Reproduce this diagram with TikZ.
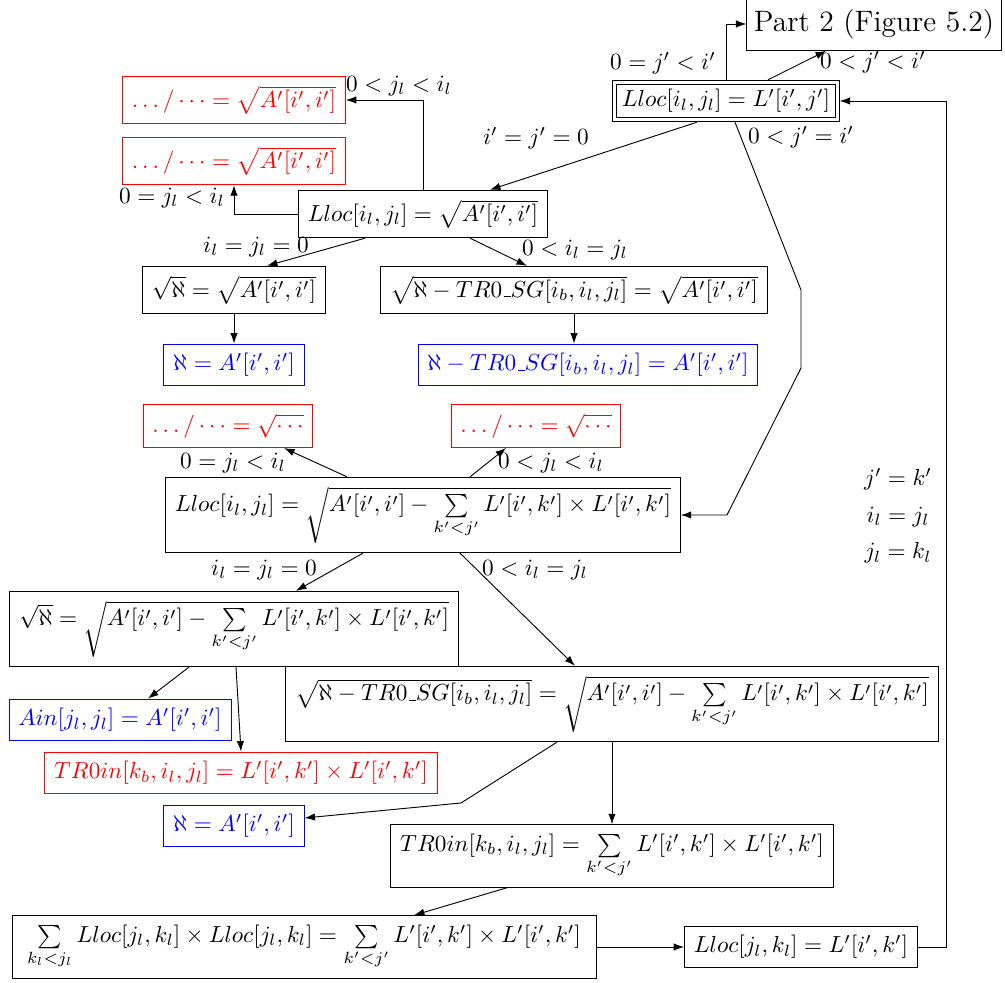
\documentclass[tikz,border=0pt]{standalone}
\usetikzlibrary{calc,arrows.meta}
\newcommand{\usc}{\mbox{\kern.06em\vbox{\hrule width.3em}}}
\begin{document}
\begin{tikzpicture}[x=0.43pt,y=-0.43pt,
  box/.style={draw, inner sep=4pt, line width=0.4pt},
  rbox/.style={box, draw=red, text=red},
  bbox/.style={box, draw=blue, text=blue},
  arr/.style={-{Latex[length=4.5pt,width=3.2pt]}, line width=0.4pt},
  lbl/.style={inner sep=1pt}
]
\useasboundingbox (0,0) rectangle (1005,983);

% nodes
\node[box, font=\fontsize{12.7}{15}\selectfont, inner xsep=3pt, inner ysep=5pt] (P) at (874,24) {Part 2 (Figure 5.2)};
\node[box, double, double distance=1.3pt, inner sep=3pt, outer sep=1.1pt] (T) at (726,101) {$Lloc[i_l,j_l]=L'[i',j']$};
\node[rbox] (R1) at (234,100) {$\ldots/\cdots=\sqrt{A'[i',i']}$};
\node[rbox] (R2) at (234,161) {$\ldots/\cdots=\sqrt{A'[i',i']}$};
\node[box] (L1) at (423,214) {$Lloc[i_l,j_l]=\sqrt{A'[i',i']}$};
\node[box] (S1) at (234,290) {$\sqrt{\aleph}=\sqrt{A'[i',i']}$};
\node[box] (S2) at (574,290) {$\sqrt{\aleph-TR0\usc SG[i_b,i_l,j_l]}=\sqrt{A'[i',i']}$};
\node[bbox] (B1) at (234,365) {$\aleph=A'[i',i']$};
\node[bbox] (B2) at (588,365) {$\aleph-TR0\usc SG[i_b,i_l,j_l]=A'[i',i']$};
\node[rbox] (R3) at (228,426) {$\ldots/\cdots=\sqrt{\cdots}$};
\node[rbox] (R4) at (536,426) {$\ldots/\cdots=\sqrt{\cdots}$};
\node[box] (L2) at (423,515) {$Lloc[i_l,j_l]=\sqrt{A'[i',i']-\sum\limits_{k'<j'}L'[i',k']\times L'[i',k']}$};
\node[box] (S3) at (234,629) {$\sqrt{\aleph}=\sqrt{A'[i',i']-\sum\limits_{k'<j'}L'[i',k']\times L'[i',k']}$};
\node[box] (S4) at (612,704) {$\sqrt{\aleph-TR0\usc SG[i_b,i_l,j_l]}=\sqrt{A'[i',i']-\sum\limits_{k'<j'}L'[i',k']\times L'[i',k']}$};
\node[bbox] (B3) at (120,720) {$Ain[j_l,j_l]=A'[i',i']$};
\node[rbox] (R5) at (241,773) {$TR0in[k_b,i_l,j_l]=L'[i',k']\times L'[i',k']$};
\node[bbox] (B4) at (234,826) {$\aleph=A'[i',i']$};
\node[box] (T1) at (612,856) {$TR0in[k_b,i_l,j_l]=\sum\limits_{k'<j'}L'[i',k']\times L'[i',k']$};
\node[box, inner xsep=6.5pt] (F1) at (304,947) {$\sum\limits_{k_l<j_l}Lloc[j_l,k_l]\times Lloc[j_l,k_l]=\sum\limits_{k'<j'}L'[i',k']\times L'[i',k']$};
\node[box] (F2) at (801,947) {$Lloc[j_l,k_l]=L'[i',k']$};

% connectors
\draw[arr] (T.north) |- (P.west) node[lbl] at (663,63) {$0=j'<i'$};
\draw[arr] ($(T.north)+(42,0)$) -- ($(P.south)+(-48,0)$) node[lbl] at (873,62) {$0<j'<i'$};
\draw[arr] ($(T.south)+(-29,0)$) -- ($(L1.north)+(67,0)$) node[lbl] at (536,138) {$i'=j'=0$};
\draw[arr] ($(T.south)+(9,0)$) -- (801,290) -- (801,368) -- (727,515) -- (L2.east) node[lbl] at (801,137) {$0<j'=i'$};

\draw[arr] (L1.north) |- (R1.east) node[lbl] at (399,86) {$0<j_l<i_l$};
\draw[arr] (L1.west) -| (R2.south) node[lbl] at (172,198) {$0=j_l<i_l$};
\draw[arr] ($(L1.south)+(-58,0)$) -- ($(S1.north)+(33,0)$) node[lbl] at (256,247) {$i_l=j_l=0$};
\draw[arr] ($(L1.south)+(47,0)$) -- ($(S2.north)+(-47,0)$) node[lbl] at (575,250) {$0<i_l=j_l$};
\draw[arr] (S1.south) -- (B1.north);
\draw[arr] (S2.south) -- (S2.south |- B2.north);

\draw[arr] ($(L2.north)+(-76,0)$) -- ($(R3.south)+(56,0)$) node[lbl] at (233,463) {$0=j_l<i_l$};
\draw[arr] ($(L2.north)+(47,0)$) -- ($(R4.south)+(-30,0)$) node[lbl] at (551,463) {$0<j_l<i_l$};
\draw[arr] ($(L2.south)+(-60,0)$) -- ($(S3.north)+(62,0)$) node[lbl] at (264,570) {$i_l=j_l=0$};
\draw[arr] ($(L2.south)+(37,0)$) -- ($(S4.north)+(-37,0)$) node[lbl] at (535,570) {$0<i_l=j_l$};

\draw[arr] ($(S3.south)+(-45,0)$) -- ($(B3.north)+(28,0)$);
\draw[arr] ($(S3.south)+(2,0)$) -- (R5.north);
\draw[arr] ($(S4.south)+(-55,0)$) -- (461,803) -- ($(B4.east)+(0,-8)$);
\draw[arr] (S4.south) -- (T1.north);
\draw[arr] ($(T1.south)+(-105,0)$) -- ($(F1.north)+(110,0)$);
\draw[arr] (F1.east) -- (F2.west);
\draw[arr] (F2.east) -- ++(29,0) |- (T.east)
  node[lbl] at (898,479) {$j'=k'$}
  node[lbl] at (898,517) {$i_l=j_l$}
  node[lbl] at (898,553) {$j_l=k_l$};
\end{tikzpicture}
\end{document}
